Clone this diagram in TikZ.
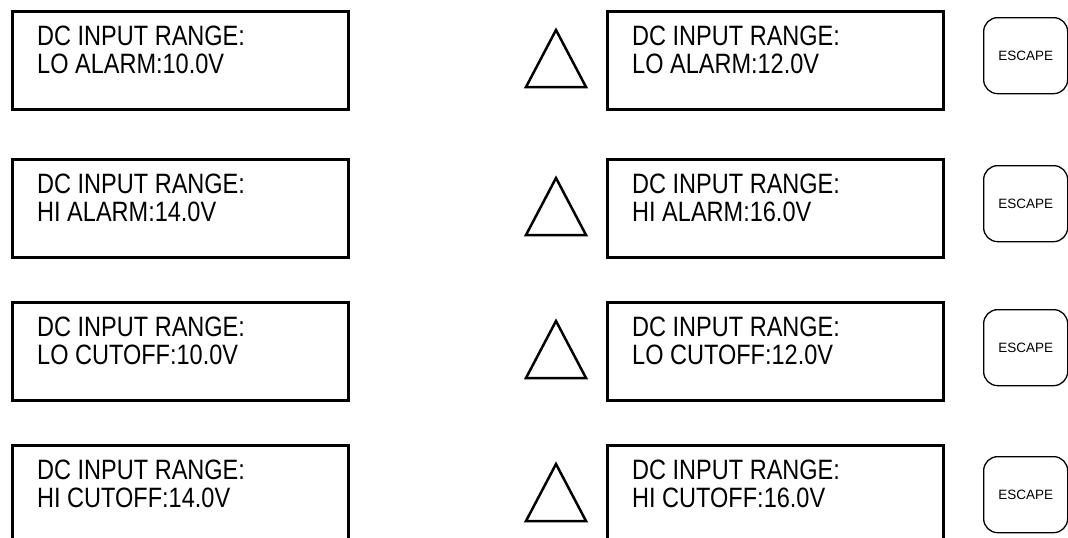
\documentclass[tikz,border=0pt]{standalone}
\usepackage{fontspec}
\setmainfont{Liberation Sans}
\newfontfamily\lcdfont[FakeStretch=0.84]{Liberation Sans}
\begin{document}
\begin{tikzpicture}[x=1pt,y=-1pt,
  lcd/.style={draw, line width=2.5pt, minimum width=336pt, minimum height=98pt, inner sep=0pt, anchor=north west},
  lcdtext/.style={font=\lcdfont\fontsize{28}{28}\selectfont, inner sep=0pt, anchor=base west},
  esc/.style={draw, line width=1.3pt, rounded corners=14pt, minimum width=84pt, minimum height=76pt, inner sep=0pt, anchor=north west, font=\fontsize{13.5}{14}\selectfont},
  tri/.style={draw, line width=2.5pt, line join=miter}]
\useasboundingbox (0,0) rectangle (1068,538);
\clip (0,0) rectangle (1068,538);
\foreach \t/\e/\la/\ra [count=\i] in {
  10/17/LO ALARM:10.0V/LO ALARM:12.0V,
  158/165/HI ALARM:14.0V/HI ALARM:16.0V,
  301/309/LO CUTOFF:10.0V/LO CUTOFF:12.0V,
  444/456/HI CUTOFF:14.0V/HI CUTOFF:16.0V}{
  \node[lcd] (L\i) at (11,\t) {};
  \node[lcdtext] (La\i) at (37,\t+35) {DC INPUT RANGE:};
  \node[lcdtext] (Lb\i) at (37,\t+63) {\la};
  \draw[tri] (526,\t+77) -- (556,\t+20) -- (586,\t+77) -- cycle;
  \node[lcd] (R\i) at (606,\t) {};
  \node[lcdtext] (Ra\i) at (632,\t+35) {DC INPUT RANGE:};
  \node[lcdtext] (Rb\i) at (632,\t+63) {\ra};
  \node[esc] (E\i) at (983,\e) {ESCAPE};
}
\end{tikzpicture}
\end{document}
